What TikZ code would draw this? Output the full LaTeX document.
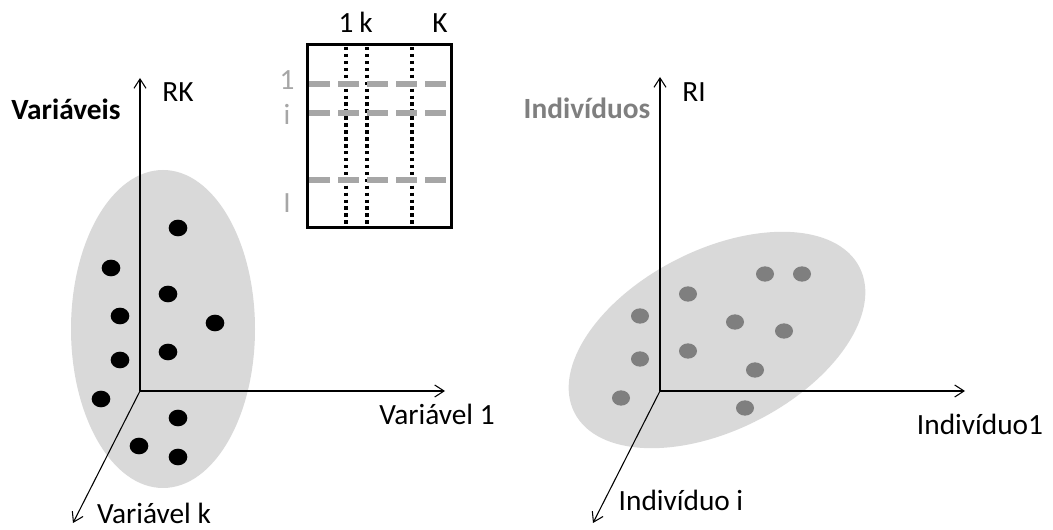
\documentclass[tikz,border=0pt]{standalone}
\usepackage{fontspec}
\setmainfont{Carlito}
\usepackage{xcolor}
\usetikzlibrary{arrows.meta}
\usetikzlibrary{positioning}
\usetikzlibrary{shapes.geometric}
\definecolor{cloud}{HTML}{D9D9D9}
\definecolor{midgray}{HTML}{7F7F7F}
\definecolor{lightgray}{HTML}{A6A6A6}
\tikzset{
  lbl/.style = {anchor=base, inner sep=0pt, font=\fontsize{22pt}{26pt}\selectfont},
  lbl_b/.style = {lbl, font=\fontsize{22pt}{26pt}\selectfont\bfseries},
  axis/.style = {-{Straight Barb[length=7pt,width=9pt]}, line width=0.8pt},
  pt_b/.style = {ellipse, fill=black, inner sep=0pt,
    minimum width=14pt, minimum height=12.5pt},% ponto preto
  pt_g/.style = {ellipse, fill=midgray, inner sep=0pt,
    minimum width=13.5pt, minimum height=11.5pt},% ponto cinzento
  col_l/.style = {line width=3pt, dash pattern=on 2.6pt off 2.6pt},% coluna
  row_l/.style = {line width=4pt, lightgray, dash pattern=on 15.75pt off 6pt}% linha
}
\begin{document}
\begin{tikzpicture}[x=0.75pt,y=-0.75pt]
\useasboundingbox (0,0) rectangle (1053,530);
% nuvens
\fill[cloud] (163,329) ellipse [x radius=92, y radius=159];
\fill[cloud, rotate around={27:(717,340)}] (717,340) ellipse [x radius=160, y radius=90];
% eixos das variaveis
\coordinate (oK) at (140,391);
\coordinate (rk) at (140,78);
\coordinate (v1) at (445,391);
\coordinate (vk) at (73,523);
\draw[axis] (oK) -- (rk);
\draw[axis] (oK) -- (v1);
\draw[axis] (oK) -- (vk);
% eixos dos individuos
\coordinate (oI) at (660,391);
\coordinate (ri) at (660,77);
\coordinate (i1) at (965,391);
\coordinate (ii) at (593,523);
\draw[axis] (oI) -- (ri);
\draw[axis] (oI) -- (i1);
\draw[axis] (oI) -- (ii);
% pontos
\foreach \px/\py [count=\n] in {178/228, 111/268, 168/294, 120/316, 215/323, 120/360,
  168/352, 101/399, 178/418, 139/446, 178/457}
  \node[pt_b] (b\n) at (\px,\py) {};
\foreach \px/\py [count=\n] in {765/274, 802/274, 688/294, 640/316, 735/322, 784/331,
  640/359, 688/351, 755/370, 621/398, 745/408}
  \node[pt_g] (g\n) at (\px,\py) {};
% tabela
\coordinate (tl) at (307,45);
\coordinate (br) at (451,228);
\foreach \cx in {346,367,412}
  \draw[col_l] (\cx,47) -- (\cx,226);
\foreach \ry in {84,113,180}
  \draw[row_l] (309,\ry) -- (449,\ry);
\draw[line width=2.25pt] (tl) rectangle (br);
\node[lbl] (c1) at (346,33) {1};
\node[lbl] (ck) at (366,33) {k};
\node[lbl] (cK) at (440,33) {K};
\node[lbl, lightgray] (r1) at (287,90) {1};
\node[lbl, lightgray] (ri_) at (287,125) {i};
\node[lbl, lightgray] (rI) at (287,213) {I};
% rotulos
\node[lbl_b] (var) at (66,120) {Variáveis};
\node[lbl] (lrk) at (178,102) {RK};
\node[lbl] (lv1) at (437,425) {Variável 1};
\node[lbl] (lvk) at (154,524) {Variável k};
\node[lbl_b, midgray] (ind) at (587,119) {Indivíduos};
\node[lbl] (lri) at (694,102) {RI};
\node[lbl] (li1) at (980,435) {Indivíduo1};
\node[lbl] (lii) at (681,511) {Indivíduo i};
\end{tikzpicture}
\end{document}
